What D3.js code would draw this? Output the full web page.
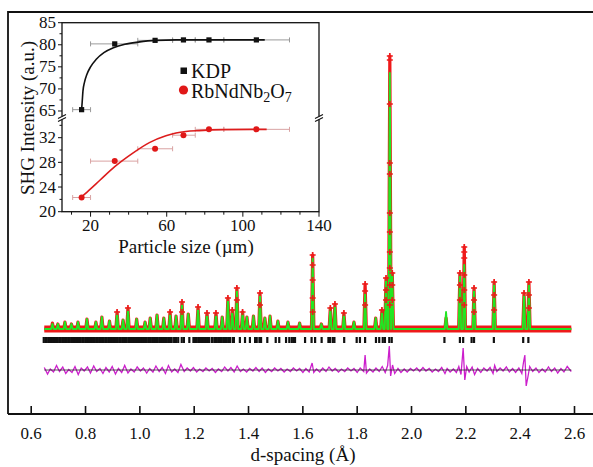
<!DOCTYPE html>
<html><head><meta charset="utf-8">
<script src="https://cdn.jsdelivr.net/npm/d3@7/dist/d3.min.js"></script>
<style>
body{margin:0;background:#fff}
svg{display:block}
text{font-family:"Liberation Serif","Times New Roman",serif;fill:#111}
</style>
</head><body>
<svg id="c" width="593" height="467"></svg>
<script>
// ---------------- main pattern data ----------------
const dRange = [0.65, 2.59];
const background = 380;
const peakD   = [0.680,0.700,0.726,0.750,0.774,0.807,0.840,0.862,0.890,0.918,0.940,0.958,0.990,1.021,1.040,1.065,1.090,1.113,1.135,1.157,1.180,1.216,1.249,1.282,1.305,1.326,1.342,1.359,1.380,1.396,1.420,1.444,1.462,1.481,1.510,1.547,1.590,1.638,1.670,1.703,1.720,1.753,1.790,1.831,1.870,1.893,1.908,1.922,1.931,2.129,2.180,2.196,2.232,2.306,2.416,2.434];
const peakObs = [500,480,520,480,520,580,520,620,540,720,560,800,580,520,600,660,600,720,640,920,680,820,700,700,620,1000,760,1200,720,620,640,1100,600,640,540,520,500,1860,480,800,880,700,520,1280,600,760,1400,5840,1500,600,1500,2020,1200,1320,1100,1320];
const peakCalc= [480,480,520,480,520,580,520,620,540,720,560,800,580,520,600,660,600,720,640,900,680,820,700,700,620,1000,760,1180,720,620,640,1080,600,640,540,520,500,1800,480,800,880,700,520,1100,600,760,1400,5500,1500,720,1500,1660,1200,1320,1100,1320];
// extra observed points read along the flanks of strong reflections
const flankD = [1.922,1.922,1.922,1.922,1.922,1.922,1.922,1.922,1.922,1.922,1.638,1.638,1.638,1.638,2.196,2.196,2.196,2.196,2.196,2.180,2.180,1.831,1.831,1.908,1.908,1.931,1.931,2.306,2.306,2.434,2.434,2.232,2.232,1.359,1.444,1.157];
const flankI = [5760,4880,3700,3480,2700,2320,1920,1600,1260,860,1660,1360,1000,720,1920,1800,1460,1160,860,1260,960,1140,860,1160,960,1260,960,1060,760,1060,800,960,720,960,860,720];
// reflection positions (tick marks)
const reflD = [0.648,0.654,0.659,0.665,0.671,0.676,0.682,0.688,0.693,0.699,0.705,0.710,0.716,0.722,0.727,0.733,0.739,0.744,0.750,0.756,0.761,0.767,0.773,0.778,0.784,0.790,0.795,0.801,0.807,0.812,0.818,0.824,0.829,0.835,0.841,0.846,0.852,0.858,0.863,0.869,0.875,0.880,0.886,0.892,0.897,0.903,0.909,0.914,0.920,0.926,0.931,0.937,0.943,0.948,0.952,0.959,0.966,0.969,0.977,0.984,0.988,0.995,1.002,1.006,1.013,1.021,1.027,1.033,1.039,1.047,1.054,1.061,1.068,1.076,1.080,1.087,1.094,1.101,1.107,1.113,1.119,1.128,1.135,1.143,1.156,1.164,1.184,1.199,1.205,1.211,1.217,1.223,1.231,1.235,1.242,1.249,1.256,1.266,1.270,1.278,1.285,1.291,1.297,1.303,1.309,1.315,1.322,1.329,1.334,1.344,1.348,1.370,1.389,1.407,1.426,1.432,1.442,1.448,1.471,1.502,1.515,1.540,1.552,1.561,1.567,1.573,1.610,1.634,1.647,1.671,1.696,1.702,1.712,1.718,1.754,1.800,1.812,1.831,1.871,1.883,1.896,1.904,1.920,1.929,2.123,2.180,2.192,2.223,2.232,2.305,2.413,2.432];
const reflLevel = 160;
// difference curve (obs - calc), plotted with an offset
const diffOffset = -440;
const diffD = [0.650,0.662,0.672,0.684,0.695,0.706,0.718,0.729,0.740,0.752,0.763,0.775,0.786,0.797,0.809,0.820,0.832,0.843,0.855,0.866,0.877,0.889,0.900,0.912,0.923,0.935,0.946,0.958,0.969,0.981,0.992,1.004,1.015,1.027,1.038,1.050,1.061,1.073,1.084,1.096,1.107,1.119,1.130,1.142,1.153,1.165,1.176,1.188,1.199,1.211,1.222,1.234,1.245,1.257,1.268,1.280,1.291,1.303,1.314,1.326,1.337,1.349,1.360,1.372,1.383,1.395,1.406,1.418,1.429,1.441,1.452,1.464,1.475,1.487,1.498,1.510,1.521,1.533,1.544,1.556,1.567,1.579,1.590,1.602,1.613,1.625,1.636,1.642,1.652,1.664,1.675,1.687,1.698,1.710,1.721,1.733,1.744,1.756,1.767,1.779,1.790,1.802,1.813,1.826,1.831,1.836,1.848,1.860,1.871,1.883,1.894,1.905,1.914,1.920,1.925,1.932,1.940,1.952,1.963,1.975,1.986,1.998,2.009,2.021,2.032,2.044,2.055,2.067,2.078,2.090,2.101,2.113,2.125,2.133,2.144,2.156,2.167,2.176,2.184,2.192,2.198,2.205,2.214,2.225,2.234,2.245,2.257,2.268,2.280,2.291,2.302,2.308,2.316,2.328,2.339,2.351,2.362,2.374,2.385,2.397,2.408,2.414,2.419,2.424,2.430,2.437,2.448,2.460,2.471,2.483,2.494,2.506,2.517,2.529,2.540,2.552,2.563,2.575,2.590];
const diffV = [50,-80,20,-40,90,-30,60,-70,10,-50,
  70,-90,40,-20,60,-60,80,-30,30,-70,
  50,-40,70,-80,30,-50,90,-60,20,-40,
  60,-20,40,-60,30,-40,80,-30,50,-70,
  90,-40,20,-50,110,-30,40,-20,50,-40,
  20,-30,40,-20,30,-50,20,-30,60,-20,
  50,-40,80,-30,20,-40,30,-20,50,-30,
  40,-50,20,-30,40,-20,30,-40,20,-30,
  40,-20,30,-50,30,-40,140,-50,20,-40,
  40,-30,60,-20,30,-40,20,-30,40,-20,
  30,-50,40,-30,300,-60,20,-40,40,-30,
  70,-50,90,480,-120,100,-70,30,-50,20,
  -40,30,-20,40,-30,50,-20,30,-40,20,
  -30,50,-70,30,-40,20,-50,70,-90,440,
  -200,70,-40,60,-90,30,-50,40,-20,50,
  -70,90,-30,40,-20,60,-40,30,-50,40,
  -70,150,300,-320,-150,70,-30,40,-50,20,
  -40,60,-30,40,-60,30,-40,70,-30];
const mainTicks = [0.6,0.8,1.0,1.2,1.4,1.6,1.8,2.0,2.2,2.4,2.6];
const mainTickLabels = ["0.6","0.8","1.0","1.2","1.4","1.6","1.8","2.0","2.2","2.4","2.6"];

// ---------------- inset data ----------------
const particleSize = [15.3, 32.7, 53.9, 68.8, 82.2, 107.1];
const sizeLo = [10.6, 20, 44.8, 63.1, 75, 90];
const sizeHi = [20, 44.8, 63.1, 75, 90, 124.5];
const kdpSHG = [65.3, 80.2, 81.0, 81.1, 81.1, 81.1];
const rbSHG  = [22.3, 28.2, 30.2, 32.4, 33.35, 33.35];
const kdpFitX = [15.3,15.6,16.0,16.8,18,20,23,27,32,38,45,54,65,111.5];
const kdpFitY = [65.3,67,69.5,71.5,73.2,75,76.7,78.2,79.3,80.1,80.6,81.0,81.1,81.1];
const rbFitX = [15.3,20,24.9,32.7,42.2,50.9,59.6,64.9,70,77,90,112.5];
const rbFitY = [22.4,23.7,25.1,27.3,29.5,31.2,32.3,32.75,33.0,33.15,33.3,33.35];
const insetXTicks = [20,60,100,140];
const insetXMinor = [10,30,40,50,70,80,90,110,120,130];
const insetYTopTicks = [65,70,75,80,85];
const insetYTopMinor = [67.5,72.5,77.5,82.5];
const insetYBotTicks = [20,24,28,32];
const insetYBotMinor = [22,26,30,34];

// ---------------- drawing ----------------
const svg = d3.select('#c');
const x = d3.scaleLinear().domain([0.6, 2.6]).range([30.7, 574]);
const y = d3.scaleLinear().domain([-1320, 6720]).range([414, 12]);

const RED = '#ee1a1a', GREEN = '#22e622', MAG = '#cc1fcc';

// frame
svg.append('path').attr('d', 'M8,414V12H600').attr('fill','none').attr('stroke','#111').attr('stroke-width',1.8);
svg.append('line').attr('x1',8).attr('x2',600).attr('y1',414).attr('y2',414).attr('stroke','#111').attr('stroke-width',1.8);

const ax = svg.append('g').attr('transform','translate(0,414)')
  .call(d3.axisBottom(x).tickValues(mainTicks).tickFormat((d,i)=>mainTickLabels[i]).tickSize(-8).tickPadding(13));
ax.select('.domain').remove();
ax.selectAll('.tick line').attr('stroke','#111').attr('stroke-width',1.6);
ax.selectAll('.tick text').style('font-family','"Liberation Serif",serif').style('font-size','17px').attr('fill','#111');
svg.append('text').attr('x',303).attr('y',461).attr('text-anchor','middle').style('font-size','19px').text('d-spacing (Å)');

function profile(vals){
  const hw = 0.0045;
  const pts = [[dRange[0], background]];
  peakD.forEach((d,i)=>{ pts.push([d-hw, background],[d, vals[i]],[d+hw, background]); });
  pts.push([dRange[1], background]);
  return pts;
}
const line = d3.line().x(p=>x(p[0])).y(p=>y(p[1]));

// observed: dense background band, profile, markers
svg.append('path').attr('d', line([[dRange[0], background],[dRange[1], background]]))
  .attr('fill','none').attr('stroke',RED).attr('stroke-width',7);
svg.append('path').attr('d', line(profile(peakObs))).attr('fill','none').attr('stroke',RED).attr('stroke-width',3.2).attr('stroke-linejoin','round');
// calculated
svg.append('path').attr('d', line(profile(peakCalc))).attr('fill','none').attr('stroke',GREEN).attr('stroke-width',1.9).attr('stroke-linejoin','round');
// markers
const cross = 'M-3,0H3M0,-3V3';
const obsMarks = peakD.map((d,i)=>[d, peakObs[i]]).filter(p=>p[1] >= 700).concat(flankD.map((d,i)=>[d, flankI[i]]));
svg.append('g').selectAll('path').data(obsMarks).join('path')
  .attr('transform', p=>`translate(${x(p[0])},${y(p[1])})`).attr('d', cross)
  .attr('stroke', RED).attr('stroke-width', 1.7).attr('fill','none');

// reflection ticks
svg.append('g').selectAll('line').data(reflD).join('line')
  .attr('x1', d=>x(d)).attr('x2', d=>x(d))
  .attr('y1', y(reflLevel)-3).attr('y2', y(reflLevel)+3)
  .attr('stroke','#111').attr('stroke-width',2.2);

// difference curve
svg.append('path').attr('d', d3.line().x((d,i)=>x(d)).y((d,i)=>y(diffOffset + diffV[i]))(diffD))
  .attr('fill','none').attr('stroke',MAG).attr('stroke-width',1.3);
svg.append('line').attr('x1',x(dRange[0])).attr('x2',x(dRange[1])).attr('y1',y(diffOffset)).attr('y2',y(diffOffset))
  .attr('stroke','#222').attr('stroke-width',1).attr('opacity',0.75);

// ---------------- inset ----------------
const xi = d3.scaleLinear().domain([5, 140]).range([62, 319]);
const yTop = d3.scaleLinear().domain([64, 85]).range([115.4, 22.7]);
const yBot = d3.scaleLinear().domain([20, 34.8]).range([211.7, 120.4]);
const gi = svg.append('g');
gi.append('rect').attr('x',62).attr('y',22.7).attr('width',257).attr('height',189).attr('fill','#fff').attr('stroke','#111').attr('stroke-width',1.3);

// x axis ticks
const tickCol = '#111';
gi.selectAll('line.xmaj').data(insetXTicks).join('line').attr('class','xmaj')
  .attr('x1',d=>xi(d)).attr('x2',d=>xi(d)).attr('y1',211.7).attr('y2',216.7).attr('stroke',tickCol).attr('stroke-width',1);
gi.selectAll('line.xmin').data(insetXMinor).join('line').attr('class','xmin')
  .attr('x1',d=>xi(d)).attr('x2',d=>xi(d)).attr('y1',211.7).attr('y2',214.7).attr('stroke',tickCol).attr('stroke-width',1);
gi.selectAll('text.xlab').data(insetXTicks).join('text').attr('class','xlab')
  .attr('x',d=>xi(d)).attr('y',231).attr('text-anchor','middle').style('font-size','17px').text(d=>d);

function leftTicks(scale, ticks, minor, cls){
  gi.selectAll('line.'+cls+'maj').data(ticks).join('line').attr('class',cls+'maj')
    .attr('x1',58).attr('x2',62).attr('y1',d=>scale(d)).attr('y2',d=>scale(d)).attr('stroke',tickCol).attr('stroke-width',1);
  gi.selectAll('line.'+cls+'min').data(minor).join('line').attr('class',cls+'min')
    .attr('x1',59.5).attr('x2',62).attr('y1',d=>scale(d)).attr('y2',d=>scale(d)).attr('stroke',tickCol).attr('stroke-width',1);
  gi.selectAll('text.'+cls+'lab').data(ticks).join('text').attr('class',cls+'lab')
    .attr('x',56).attr('y',d=>scale(d)+5.5).attr('text-anchor','end').style('font-size','17px').text(d=>d);
}
leftTicks(yTop, insetYTopTicks, insetYTopMinor, 'yt');
leftTicks(yBot, insetYBotTicks, insetYBotMinor, 'yb');

// axis breaks
[62, 319].forEach(bx=>{
  gi.append('rect').attr('x',bx-2).attr('y',116.3).attr('width',4).attr('height',3.2).attr('fill','#fff');
  gi.append('path').attr('d',`M${bx-4},118.5L${bx+4},114.5M${bx-4},121.5L${bx+4},117.5`).attr('stroke','#111').attr('stroke-width',1.1);
});

gi.append('text').attr('transform','translate(34,118) rotate(-90)').attr('text-anchor','middle').style('font-size','19px').text('SHG Intensity (a.u.)');
gi.append('text').attr('x',186).attr('y',253).attr('text-anchor','middle').style('font-size','19px').text('Particle size (µm)');

// error bars
function errBars(vals, scale, col){
  particleSize.forEach((s,i)=>{
    const yy = scale(vals[i]);
    gi.append('line').attr('x1',xi(sizeLo[i])).attr('x2',xi(sizeHi[i])).attr('y1',yy).attr('y2',yy).attr('stroke',col).attr('stroke-width',1);
    [sizeLo[i], sizeHi[i]].forEach(e=>gi.append('line').attr('x1',xi(e)).attr('x2',xi(e)).attr('y1',yy-2.5).attr('y2',yy+2.5).attr('stroke',col).attr('stroke-width',1));
  });
}
errBars(kdpSHG, yTop, '#9a9a9a');
errBars(rbSHG, yBot, '#d9a3a3');

// fits
gi.append('path').attr('d', d3.line().curve(d3.curveMonotoneX).x((d)=>xi(d)).y((d,i)=>yTop(kdpFitY[i]))(kdpFitX))
  .attr('fill','none').attr('stroke','#111').attr('stroke-width',1.6);
gi.append('path').attr('d', d3.line().curve(d3.curveMonotoneX).x((d)=>xi(d)).y((d,i)=>yBot(rbFitY[i]))(rbFitX))
  .attr('fill','none').attr('stroke','#dd1c1c').attr('stroke-width',1.6);

// points
gi.selectAll('rect.kdp').data(particleSize).join('rect').attr('class','kdp')
  .attr('x',(d)=>xi(d)-2.6).attr('y',(d,i)=>yTop(kdpSHG[i])-2.6).attr('width',5.2).attr('height',5.2).attr('fill','#111');
gi.selectAll('circle.rb').data(particleSize).join('circle').attr('class','rb')
  .attr('cx',(d)=>xi(d)).attr('cy',(d,i)=>yBot(rbSHG[i])).attr('r',3).attr('fill','#e01818');

// legend
gi.append('rect').attr('x',180.5).attr('y',67.5).attr('width',6.5).attr('height',6.5).attr('fill','#111');
gi.append('text').attr('x',191).attr('y',77.5).style('font-size','20px').text('KDP');
gi.append('circle').attr('cx',183.5).attr('cy',90).attr('r',4.6).attr('fill','#e01818');
const lt = gi.append('text').attr('x',191).attr('y',97.5).style('font-size','20px');
lt.append('tspan').text('RbNdNb');
lt.append('tspan').attr('dy',4).style('font-size','14px').text('2');
lt.append('tspan').attr('dy',-4).text('O');
lt.append('tspan').attr('dy',4).style('font-size','14px').text('7');
</script>
</body></html>
